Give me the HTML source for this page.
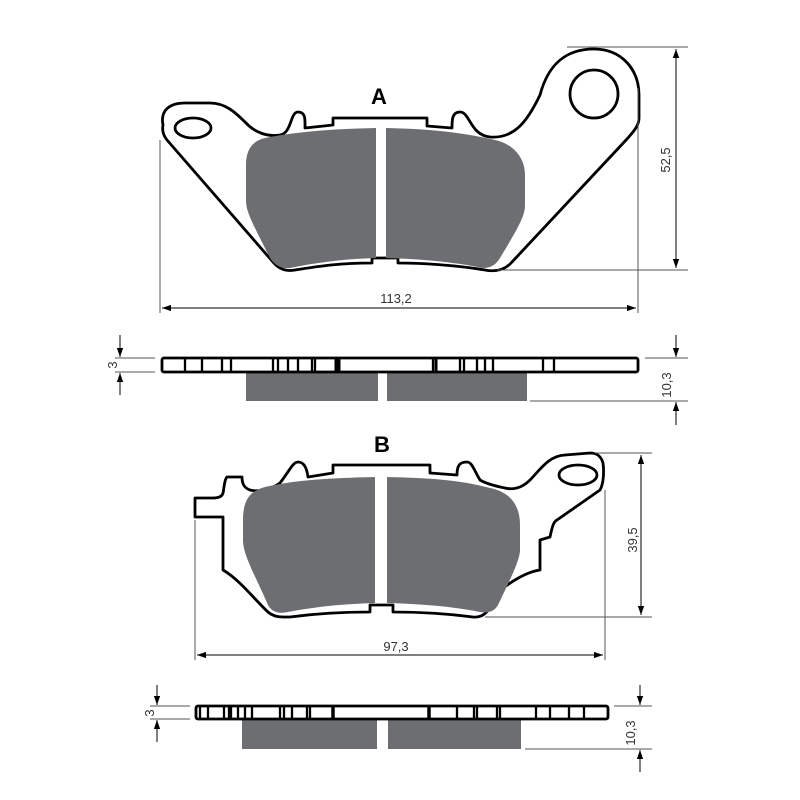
<!DOCTYPE html>
<html><head><meta charset="utf-8"><style>html,body{margin:0;padding:0;background:#fff}svg{display:block}text{font-family:"Liberation Sans",sans-serif}</style></head>
<body>
<svg width="800" height="800" viewBox="0 0 800 800" xmlns="http://www.w3.org/2000/svg">
<defs>
<marker id="ar" viewBox="0 0 10 10" refX="10" refY="5" markerWidth="9" markerHeight="9" orient="auto-start-reverse" markerUnits="userSpaceOnUse"><path d="M0,1.5 L10,5 L0,8.5 Z" fill="#000"/></marker>
</defs>
<g fill="none" stroke="#000" stroke-width="2.8" stroke-linejoin="round">
<!-- Pad A -->
<path d="M163,125 C160,110 170,103 185,103 L210,103 C225,103 235,112 245,122 C255,133 268,137 280,135 C292,133 290,112 298,112 C306,112 305,120 305,128 L333,125 L333,118 L427,118 L427,126 L452,128 C452,120 452,112 460,112 C470,112 470,135 490,137 C515,139 528,120 540,95 C548,65 565,49 594,49 C622,49 639,70 639,95 L639,118 C639,126 633,132 627,139 L512,262 C505,270 495,272 485,270 C455,265 420,263 398,263 L398,258 L372,258 L372,263 C340,263 320,266 295,270 C285,272 278,268 273,262 L167,140 C163,135 162,130 163,125 Z"/>
<ellipse cx="193" cy="128" rx="18" ry="10"/>
<circle cx="594" cy="94" r="24"/>
<!-- Pad B -->
<path d="M195,498 L195,517 L223,517 L223,570 C240,580 255,600 268,612 C275,618 283,617 290,617 C320,613 345,612 370,612 L370,605 L393,605 L393,612 C420,612 450,614 473,617 C483,618 490,612 493,597 C505,585 525,572 540,570 L540,540 L550,537 C552,528 553,522 557,520 L600,490 C604,483 604,470 603,463 C601,456 597,453 590,453 L565,455 C548,456 540,470 530,480 C522,488 513,490 505,488 C495,486 485,483 480,480 C474,470 472,462 467,462 C460,462 457,465 457,475 L430,473 L430,465 L333,465 L333,473 L308,477 C307,470 305,462 298,462 C293,462 290,470 280,483 C270,490 258,492 250,490 C245,488 242,485 242,477 L227,477 C224,480 224,490 223,493 C222,497 218,498 213,498 Z"/>
<ellipse cx="578" cy="475" rx="19" ry="10"/>
</g>
<g fill="#6d6e71">
<path d="M376,128 C330,129 295,132 265,138 C252,141 246,150 246,165 L246,200 C246,212 252,222 270,258 C275,266 282,269 290,268 C320,262 345,259 376,258 Z"/>
<path d="M386,128 C430,129 460,132 495,140 C510,143 525,155 525,175 L525,205 C525,215 520,225 500,258 C495,266 490,268 482,268 C455,262 420,259 386,258 Z"/>
<path d="M375,477 C330,478 295,480 265,487 C250,491 243,500 243,520 L243,540 C243,555 255,575 268,605 C272,612 278,614 288,612 C320,606 345,604 375,603 Z"/>
<path d="M387,477 C430,478 460,480 490,488 C510,492 520,505 520,525 L520,550 C520,560 510,580 498,605 C494,612 488,613 480,612 C450,606 420,604 387,603 Z"/>
<rect x="246" y="372" width="132" height="29"/>
<rect x="387" y="372" width="140" height="29"/>
<rect x="242" y="719" width="135" height="30"/>
<rect x="388" y="719" width="133" height="30"/>
</g>
<g fill="none" stroke="#000" stroke-width="2.8">
<rect x="162" y="358" width="476" height="14" rx="2"/>
<rect x="196" y="706" width="412" height="13" rx="2"/>
</g>
<g stroke="#000" stroke-width="2.3">
<path d="M185,358V372M202,358V372M222,358V372M231,358V372M273,358V372M278,358V372M288,358V372M298,358V372M312,358V372M315,358V372M433,358V372M460,358V372M464,358V372M477,358V372M485,358V372M493,358V372M543,358V372M554,358V372"/>
<path d="M336,358V372M339,358V372M436,358V372" stroke-width="3"/>
<path d="M200,706V719M208,706V719M224,706V719M229,706V719M231,706V719M238,706V719M245,706V719M252,706V719M280,706V719M284,706V719M292,706V719M307,706V719M310,706V719M457,706V719M474,706V719M477,706V719M497,706V719M500,706V719M536,706V719M550,706V719M569,706V719M584,706V719"/>
<path d="M333,706V719M429,706V719" stroke-width="3.5"/>
</g>
<g stroke="#555" stroke-width="1" fill="none">
<line x1="567" y1="47" x2="688" y2="47"/><line x1="497" y1="270" x2="688" y2="270"/>
<line x1="160" y1="140" x2="160" y2="313"/><line x1="638" y1="88" x2="638" y2="313"/>
<line x1="115" y1="358" x2="155" y2="358"/><line x1="115" y1="372" x2="155" y2="372"/>
<line x1="645" y1="358" x2="688" y2="358"/><line x1="530" y1="401" x2="688" y2="401"/>
<line x1="595" y1="453" x2="652" y2="453"/><line x1="485" y1="617" x2="652" y2="617"/>
<line x1="195" y1="520" x2="195" y2="660"/><line x1="605" y1="490" x2="605" y2="660"/>
<line x1="150" y1="706" x2="190" y2="706"/><line x1="150" y1="719" x2="190" y2="719"/>
<line x1="614" y1="706" x2="652" y2="706"/><line x1="525" y1="749" x2="652" y2="749"/>
</g>
<g stroke="#000" stroke-width="1" fill="none">
<line x1="676" y1="49" x2="676" y2="268" marker-start="url(#ar)" marker-end="url(#ar)"/>
<line x1="162" y1="308" x2="636" y2="308" marker-start="url(#ar)" marker-end="url(#ar)"/>
<line x1="120" y1="335" x2="120" y2="357" marker-end="url(#ar)"/>
<line x1="120" y1="395" x2="120" y2="373" marker-end="url(#ar)"/>
<line x1="676" y1="335" x2="676" y2="357" marker-end="url(#ar)"/>
<line x1="676" y1="425" x2="676" y2="402" marker-end="url(#ar)"/>
<line x1="641" y1="455" x2="641" y2="615" marker-start="url(#ar)" marker-end="url(#ar)"/>
<line x1="197" y1="655" x2="603" y2="655" marker-start="url(#ar)" marker-end="url(#ar)"/>
<line x1="157" y1="685" x2="157" y2="705" marker-end="url(#ar)"/>
<line x1="157" y1="742" x2="157" y2="720" marker-end="url(#ar)"/>
<line x1="640" y1="685" x2="640" y2="705" marker-end="url(#ar)"/>
<line x1="640" y1="772" x2="640" y2="750" marker-end="url(#ar)"/>
</g>
<g font-size="13" fill="#333" text-anchor="middle">
<text x="396" y="303">113,2</text>
<text x="396" y="651">97,3</text>
<text transform="translate(670,160) rotate(-90)">52,5</text>
<text transform="translate(637,540) rotate(-90)">39,5</text>
<text transform="translate(671,385) rotate(-90)">10,3</text>
<text transform="translate(635,733) rotate(-90)">10,3</text>
<text transform="translate(117,365) rotate(-90)">3</text>
<text transform="translate(154,713) rotate(-90)">3</text>
</g>
<g font-size="22" font-weight="bold" fill="#000" text-anchor="middle">
<text x="379" y="104">A</text>
<text x="382" y="452">B</text>
</g>
</svg>
</body></html>
